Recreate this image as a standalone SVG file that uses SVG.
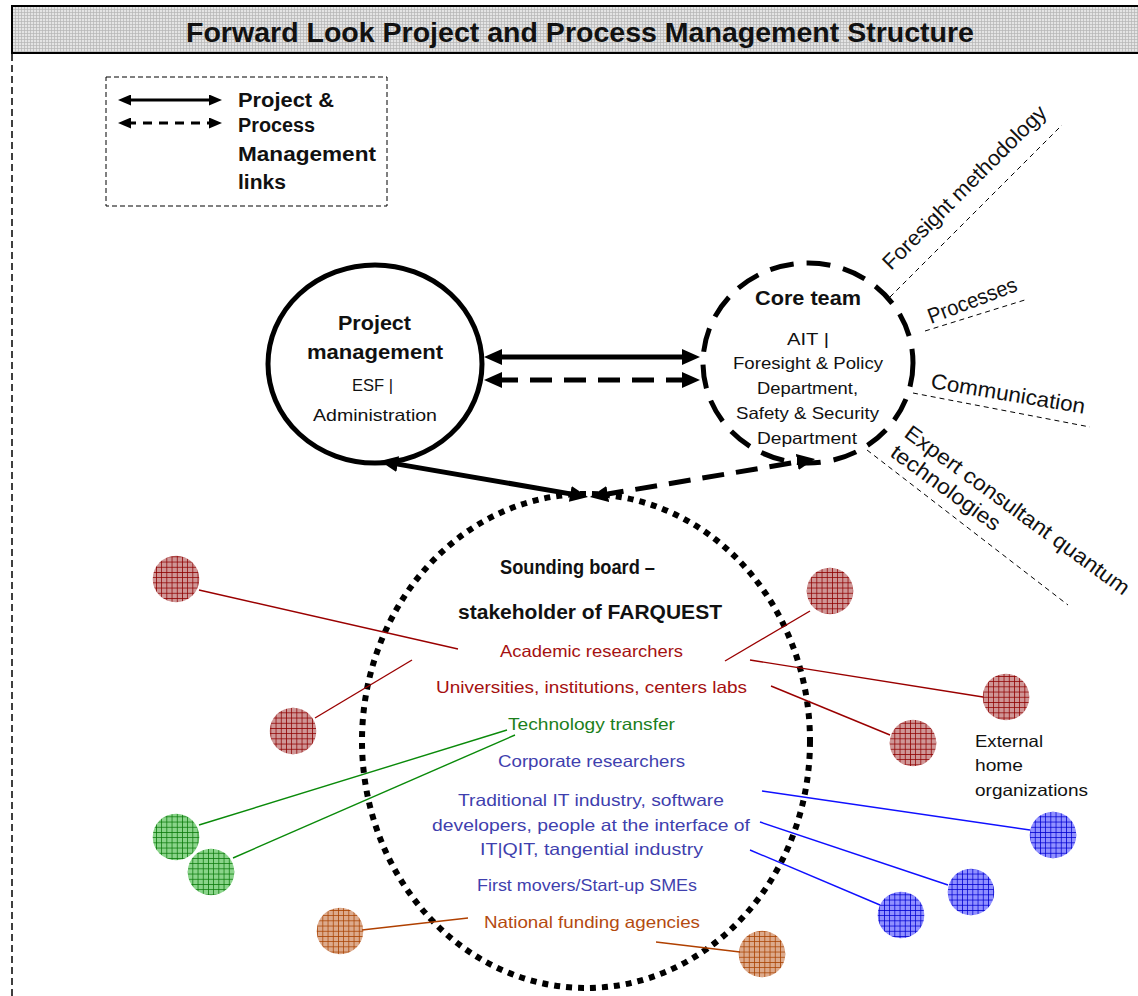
<svg xmlns="http://www.w3.org/2000/svg" width="1138" height="996" viewBox="0 0 1138 996">
  <style>
    text { font-family: "Liberation Sans", Arial, sans-serif; fill: #111; }
    .b { font-weight: bold; }
    .t16 { font-size: 16.5px; }
    .t19 { font-size: 19.5px; }
    .side { font-size: 21.5px; }
    .red { fill: #a51010; }
    .green { fill: #1c7f1c; }
    .blue { fill: #3f3fae; }
    .brown { fill: #b44a10; }
    .thin { stroke-width: 1.4; fill: none; }
    .lred { stroke: #9a0000; }
    .lgreen { stroke: #0a8a0a; }
    .lblue { stroke: #1010ff; }
    .lbrown { stroke: #b04000; }
    .side-line { stroke: #000; stroke-width: 1; stroke-dasharray: 5 4; fill: none; }
    .link { stroke: #000; stroke-width: 5; fill: none; }
    .dash { stroke-dasharray: 22 12; }
  </style>
  <defs>
    <pattern id="gridGray" width="3" height="3" patternUnits="userSpaceOnUse">
      <rect width="3" height="3" fill="#e4e4e4"/>
      <path d="M0 0.5H3M0.5 0V3" stroke="#b4b4b4" stroke-width="0.7"/>
    </pattern>
    <pattern id="hatchRed" width="5.2" height="5.2" patternUnits="userSpaceOnUse">
      <rect width="5.2" height="5.2" fill="#cf9696"/>
      <path d="M0 0.4H5.2M0.4 0V5.2" stroke="#8e0000" stroke-width="0.8"/>
    </pattern>
    <pattern id="hatchGreen" width="5.2" height="5.2" patternUnits="userSpaceOnUse">
      <rect width="5.2" height="5.2" fill="#8ad48a"/>
      <path d="M0 0.4H5.2M0.4 0V5.2" stroke="#0a7a0a" stroke-width="0.8"/>
    </pattern>
    <pattern id="hatchBlue" width="5.2" height="5.2" patternUnits="userSpaceOnUse">
      <rect width="5.2" height="5.2" fill="#9090ff"/>
      <path d="M0 0.4H5.2M0.4 0V5.2" stroke="#0000d0" stroke-width="0.8"/>
    </pattern>
    <pattern id="hatchBrown" width="5.2" height="5.2" patternUnits="userSpaceOnUse">
      <rect width="5.2" height="5.2" fill="#dcaa8c"/>
      <path d="M0 0.4H5.2M0.4 0V5.2" stroke="#a84000" stroke-width="0.8"/>
    </pattern>
    <marker id="head" viewBox="0 0 18 16" markerWidth="18" markerHeight="16" refX="6" refY="8" orient="auto-start-reverse" markerUnits="userSpaceOnUse">
      <path d="M0 0L18 8L0 16z" fill="#000"/>
    </marker>
    <marker id="headSmall" viewBox="0 0 13 11" markerWidth="13" markerHeight="11" refX="4" refY="5.5" orient="auto-start-reverse" markerUnits="userSpaceOnUse">
      <path d="M0 0L13 5.5L0 11z" fill="#000"/>
    </marker>
  </defs>

  <rect width="1138" height="996" fill="#fff"/>

  <!-- frame: title band and left border -->
  <g id="frame">
    <rect x="12" y="6" width="1132" height="47" fill="url(#gridGray)" stroke="#000" stroke-width="2"/>
    <text class="b" x="186" y="42" font-size="27" textLength="788" lengthAdjust="spacingAndGlyphs">Forward Look Project and Process Management Structure</text>
    <line x1="12" y1="54" x2="12" y2="996" stroke="#000" stroke-width="1.5" stroke-dasharray="7 4"/>
  </g>

  <!-- legend -->
  <g id="legend">
    <rect x="106" y="77" width="281" height="129" fill="none" stroke="#000" stroke-width="1" stroke-dasharray="5 3"/>
    <line x1="127" y1="100" x2="213" y2="100" stroke="#000" stroke-width="3" marker-start="url(#headSmall)" marker-end="url(#headSmall)"/>
    <line x1="127" y1="123" x2="213" y2="123" stroke="#000" stroke-width="3" stroke-dasharray="9 7" marker-start="url(#headSmall)" marker-end="url(#headSmall)"/>
    <text class="b t19" x="238" y="107" textLength="96" lengthAdjust="spacingAndGlyphs">Project &amp;</text>
    <text class="b t19" x="238" y="132" textLength="77" lengthAdjust="spacingAndGlyphs">Process</text>
    <text class="b t19" x="238" y="161" textLength="138" lengthAdjust="spacingAndGlyphs">Management</text>
    <text class="b t19" x="238" y="189" textLength="48" lengthAdjust="spacingAndGlyphs">links</text>
  </g>

  <!-- project management -->
  <g id="project-management">
    <ellipse cx="375" cy="364" rx="107" ry="99" fill="none" stroke="#000" stroke-width="5"/>
    <text class="b t19" x="338" y="330" textLength="73" lengthAdjust="spacingAndGlyphs">Project</text>
    <text class="b t19" x="307" y="359" textLength="136" lengthAdjust="spacingAndGlyphs">management</text>
    <text class="t16" x="352" y="391" textLength="41" lengthAdjust="spacingAndGlyphs">ESF |</text>
    <text class="t16" x="313" y="421" textLength="124" lengthAdjust="spacingAndGlyphs">Administration</text>
  </g>

  <!-- core team -->
  <g id="core-team">
    <ellipse cx="808" cy="363" rx="105" ry="100" fill="none" stroke="#000" stroke-width="5" stroke-dasharray="24 13"/>
    <text class="b t19" x="755" y="305" textLength="106" lengthAdjust="spacingAndGlyphs">Core team</text>
    <text class="t16" x="787" y="345" textLength="42" lengthAdjust="spacingAndGlyphs">AIT |</text>
    <text class="t16" x="733" y="369" textLength="150" lengthAdjust="spacingAndGlyphs">Foresight &amp; Policy</text>
    <text class="t16" x="757" y="394" textLength="101" lengthAdjust="spacingAndGlyphs">Department,</text>
    <text class="t16" x="736" y="419" textLength="143" lengthAdjust="spacingAndGlyphs">Safety &amp; Security</text>
    <text class="t16" x="757" y="444" textLength="100" lengthAdjust="spacingAndGlyphs">Department</text>
  </g>

  <!-- core team tasks -->
  <g id="core-tasks">
    <line class="side-line" x1="890" y1="297" x2="1062" y2="125"/>
    <text class="side" transform="translate(891 271) rotate(-45)" textLength="222" lengthAdjust="spacingAndGlyphs">Foresight methodology</text>
    <line class="side-line" x1="925" y1="331" x2="1028" y2="299"/>
    <text class="side" transform="translate(931 324) rotate(-21)" textLength="94" lengthAdjust="spacingAndGlyphs">Processes</text>
    <line class="side-line" x1="913" y1="393" x2="1090" y2="427"/>
    <text class="side" transform="translate(930 388) rotate(9.5)" textLength="156" lengthAdjust="spacingAndGlyphs">Communication</text>
    <line class="side-line" x1="867" y1="450" x2="1068" y2="605"/>
    <text class="side" transform="translate(903 436) rotate(36)">
      <tspan x="0" y="0" textLength="272" lengthAdjust="spacingAndGlyphs">Expert consultant quantum</tspan>
      <tspan x="0" y="24" textLength="130" lengthAdjust="spacingAndGlyphs">technologies</tspan>
    </text>
  </g>

  <!-- sounding board -->
  <g id="sounding-board">
    <ellipse cx="586" cy="741" rx="224" ry="247" fill="none" stroke="#000" stroke-width="6" stroke-dasharray="6 6"/>
    <text class="b t19" x="500" y="574" textLength="155" lengthAdjust="spacingAndGlyphs">Sounding board –</text>
    <text class="b t19" x="458" y="619" textLength="264" lengthAdjust="spacingAndGlyphs">stakeholder of FARQUEST</text>
    <text class="t16 red" x="500" y="657" textLength="183" lengthAdjust="spacingAndGlyphs">Academic researchers</text>
    <text class="t16 red" x="436" y="693" textLength="311" lengthAdjust="spacingAndGlyphs">Universities, institutions, centers labs</text>
    <text class="t16 green" x="508" y="730" textLength="167" lengthAdjust="spacingAndGlyphs">Technology transfer</text>
    <text class="t16 blue" x="498" y="767" textLength="187" lengthAdjust="spacingAndGlyphs">Corporate researchers</text>
    <text class="t16 blue" x="458" y="806" textLength="266" lengthAdjust="spacingAndGlyphs">Traditional IT industry, software</text>
    <text class="t16 blue" x="432" y="831" textLength="318" lengthAdjust="spacingAndGlyphs">developers, people at the interface of</text>
    <text class="t16 blue" x="480" y="855" textLength="223" lengthAdjust="spacingAndGlyphs">IT|QIT, tangential industry</text>
    <text class="t16 blue" x="477" y="891" textLength="220" lengthAdjust="spacingAndGlyphs">First movers/Start-up SMEs</text>
    <text class="t16 brown" x="484" y="928" textLength="216" lengthAdjust="spacingAndGlyphs">National funding agencies</text>
  </g>

  <!-- stakeholder groups -->
  <g id="stakeholders">
    <circle cx="176" cy="579" r="23.3" fill="url(#hatchRed)"/>
    <circle cx="293" cy="731" r="23.3" fill="url(#hatchRed)"/>
    <circle cx="830" cy="591" r="23.3" fill="url(#hatchRed)"/>
    <circle cx="1006" cy="697" r="23.3" fill="url(#hatchRed)"/>
    <circle cx="913" cy="743" r="23.3" fill="url(#hatchRed)"/>
    <circle cx="176" cy="837" r="23.3" fill="url(#hatchGreen)"/>
    <circle cx="211" cy="872" r="23.3" fill="url(#hatchGreen)"/>
    <circle cx="1053" cy="835" r="23.3" fill="url(#hatchBlue)"/>
    <circle cx="971" cy="892" r="23.3" fill="url(#hatchBlue)"/>
    <circle cx="901" cy="915" r="23.3" fill="url(#hatchBlue)"/>
    <circle cx="340" cy="931" r="23.3" fill="url(#hatchBrown)"/>
    <circle cx="762" cy="954" r="23.3" fill="url(#hatchBrown)"/>
  </g>

  <g id="external-label">
    <text class="t16" x="975" y="747" textLength="68" lengthAdjust="spacingAndGlyphs">External</text>
    <text class="t16" x="975" y="771" textLength="48" lengthAdjust="spacingAndGlyphs">home</text>
    <text class="t16" x="975" y="796" textLength="113" lengthAdjust="spacingAndGlyphs">organizations</text>
  </g>

  <!-- connectors -->
  <g id="connectors">
    <line class="link" x1="496" y1="357" x2="688" y2="357" marker-start="url(#head)" marker-end="url(#head)"/>
    <line class="link dash" x1="496" y1="380" x2="688" y2="380" marker-start="url(#head)" marker-end="url(#head)"/>
    <line class="link" x1="391.8" y1="463.1" x2="576.2" y2="494.9" marker-start="url(#head)" marker-end="url(#head)"/>
    <line class="link dash" x1="601.8" y1="495" x2="803.2" y2="461" marker-start="url(#head)" marker-end="url(#head)"/>

    <line class="thin lred" x1="199" y1="590" x2="458" y2="649"/>
    <line class="thin lred" x1="315" y1="718" x2="412" y2="660"/>
    <line class="thin lred" x1="810" y1="611" x2="725" y2="661"/>
    <line class="thin lred" x1="983" y1="697" x2="750" y2="660"/>
    <line class="thin lred" x1="890" y1="735" x2="771" y2="686"/>
    <line class="thin lgreen" x1="199" y1="825" x2="507" y2="730"/>
    <line class="thin lgreen" x1="233" y1="858" x2="515" y2="735"/>
    <line class="thin lblue" x1="1030" y1="830" x2="762" y2="791"/>
    <line class="thin lblue" x1="948" y1="885" x2="760" y2="822"/>
    <line class="thin lblue" x1="880" y1="905" x2="750" y2="850"/>
    <line class="thin lbrown" x1="362" y1="930" x2="468" y2="918"/>
    <line class="thin lbrown" x1="740" y1="952" x2="656" y2="942"/>
  </g>
</svg>
